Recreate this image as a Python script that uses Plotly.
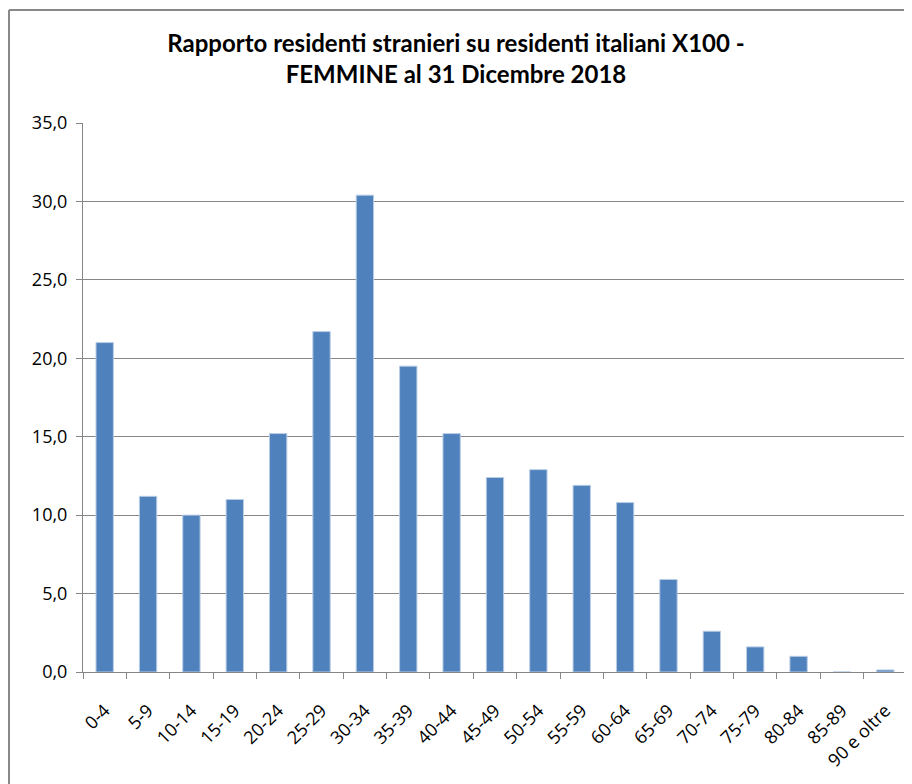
import plotly.graph_objects as go

categories = ["0-4", "5-9", "10-14", "15-19", "20-24", "25-29", "30-34", "35-39",
              "40-44", "45-49", "50-54", "55-59", "60-64", "65-69", "70-74",
              "75-79", "80-84", "85-89", "90 e oltre"]
values = [21.0, 11.2, 10.0, 11.0, 15.2, 21.7, 30.4, 19.5, 15.2, 12.4, 12.9,
          11.9, 10.8, 5.9, 2.6, 1.6, 1.0, 0.0, 0.13]
y_ticks = [0, 5, 10, 15, 20, 25, 30, 35]

# page body has an 8px default margin, so the figure is 8px smaller
W, H = 904, 776
ML, MR, MT, MB = 75, 5, 115, 112
PW = W - ML - MR
PH = H - MT - MB

fig = go.Figure(go.Bar(
    x=categories, y=values,
    marker=dict(color="#4F81BD", line=dict(color="#B9CDE5", width=1)),
    width=0.4,
))

fig.update_layout(
    width=W, height=H,
    margin=dict(l=ML, r=MR, t=MT, b=MB, autoexpand=False),
    paper_bgcolor="white", plot_bgcolor="white",
    separators=",.",
    showlegend=False,
    title=dict(
        text="Rapporto residenti stranieri su residenti italiani X100 -<br>FEMMINE al 31 Dicembre 2018",
        x=(456 - 8) / W, xref="container", xanchor="center",
        y=1 - 44 / H, yref="container", yanchor="top",
        font=dict(family="Lato", size=24, color="black", weight="bold"),
    ),
    font=dict(family="Open Sans", size=17, color="black"),
    xaxis=dict(
        type="category", tickson="boundaries", ticks="outside", ticklen=6,
        tickcolor="#868686", showline=True, linecolor="#868686", linewidth=1,
        showgrid=False, tickangle=-45, automargin=False, ticklabelstandoff=20,
        tickfont=dict(family="Open Sans", size=18, color="black"),
    ),
    yaxis=dict(
        range=[0, 35], tickvals=y_ticks, tickformat=".1f",
        ticks="outside", ticklen=6, tickcolor="#868686", automargin=False,
        ticklabelstandoff=5,
        showline=True, linecolor="#868686", linewidth=1,
        showgrid=True, gridcolor="#868686", gridwidth=1, zeroline=False,
        tickfont=dict(family="Open Sans", size=18, color="black"),
    ),
)

# outer chart-area border (left and top edges visible)
x_left = (1 - ML) / PW
y_top = (H - 2 - MB) / PH
fig.add_shape(type="line", xref="paper", yref="paper",
              x0=x_left, x1=x_left, y0=(0 - MB) / PH, y1=y_top,
              line=dict(color="#888888", width=2))
fig.add_shape(type="line", xref="paper", yref="paper",
              x0=x_left, x1=(W - ML) / PW, y0=y_top, y1=y_top,
              line=dict(color="#888888", width=2))

fig.write_html("out.html")
